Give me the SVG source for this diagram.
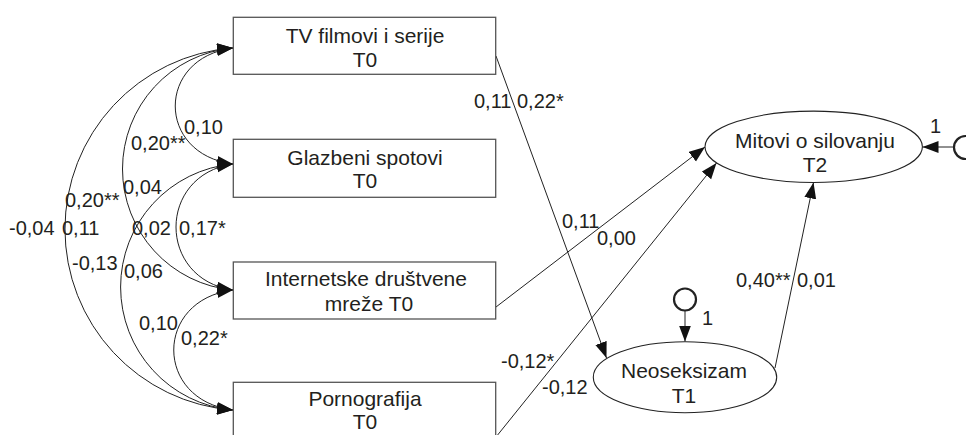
<svg xmlns="http://www.w3.org/2000/svg" width="966" height="435" viewBox="0 0 966 435">
<style>
.box{fill:#fff;stroke:#555;stroke-width:1.3}
.ell{fill:#fff;stroke:#222;stroke-width:1.1}
.err{fill:#fff;stroke:#222;stroke-width:2.2}
.c{fill:none;stroke:#222;stroke-width:1}
.nt{font-family:"Liberation Sans",Arial,sans-serif;font-size:21px;fill:#231f20;text-anchor:middle}
.lb{font-family:"Liberation Sans",Arial,sans-serif;font-size:20px;fill:#231f20}
</style>
<defs>
<marker id="ah" markerUnits="userSpaceOnUse" markerWidth="17" markerHeight="13" refX="16" refY="6" orient="auto-start-reverse" viewBox="0 0 17 13">
<path d="M0,0 L16,6 L0,12 z" fill="#111"/>
</marker>
</defs>
<rect width="966" height="435" fill="#fff"/>
<g id="connectors">
<path class="c" d="M233,48 C156,58 156,154 233,164" marker-start="url(#ah)" marker-end="url(#ah)"/>
<path class="c" d="M233,48 A121.5,121.5 0 0 0 233,290" marker-start="url(#ah)" marker-end="url(#ah)"/>
<path class="c" d="M233,48 A181.5,181.5 0 0 0 233,410" marker-start="url(#ah)" marker-end="url(#ah)"/>
<path class="c" d="M233,164 C157,175 157,279 233,290" marker-start="url(#ah)" marker-end="url(#ah)"/>
<path class="c" d="M233,164 A123.5,123.5 0 0 0 233,410" marker-start="url(#ah)" marker-end="url(#ah)"/>
<path class="c" d="M233,290 C154,300 154,400 233,410" marker-start="url(#ah)" marker-end="url(#ah)"/>
<path class="c" d="M496,56 L606.5,358" marker-end="url(#ah)"/>
<path class="c" d="M496,307 L705,147" marker-end="url(#ah)"/>
<path class="c" d="M496,437 L716.5,163" marker-end="url(#ah)"/>
<path class="c" d="M775,368 L813.5,182.5" marker-end="url(#ah)"/>
<path class="c" d="M953.5,147 L922.5,147" marker-end="url(#ah)"/>
<path class="c" d="M685,310.5 L685,341.5" marker-end="url(#ah)"/>
</g>
<g id="tv"><rect class="box" x="233.3" y="17.3" width="262.4" height="57"/><text class="nt" x="365" y="43.3">TV filmovi i serije</text><text class="nt" x="365" y="66.7">T0</text></g>
<g id="glazbeni"><rect class="box" x="233.3" y="139.3" width="262.4" height="58"/><text class="nt" x="365" y="165">Glazbeni spotovi</text><text class="nt" x="365" y="188.3">T0</text></g>
<g id="internet"><rect class="box" x="233.3" y="262" width="262.4" height="57"/><text class="nt" x="366" y="285.7">Internetske društvene</text><text class="nt" x="369" y="310.7">mreže T0</text></g>
<g id="porno"><rect class="box" x="233.3" y="382.3" width="262.4" height="57"/><text class="nt" x="365" y="405.7">Pornografija</text><text class="nt" x="365" y="429.3">T0</text></g>
<g id="mitovi"><ellipse class="ell" cx="813.7" cy="146.8" rx="108.7" ry="35.7"/><text class="nt" x="815" y="148.3">Mitovi o silovanju</text><text class="nt" x="815" y="171.7">T2</text></g>
<g id="neoseksizam"><ellipse class="ell" cx="685" cy="377.2" rx="91.7" ry="35.5"/><text class="nt" x="684" y="378.3">Neoseksizam</text><text class="nt" x="684" y="402.7">T1</text></g>
<g id="e1"><circle class="err" cx="685" cy="299.5" r="11"/><text class="lb" x="702" y="325">1</text></g>
<g id="e2"><circle class="err" cx="965.5" cy="147.5" r="11.5"/><text class="lb" x="930" y="133">1</text></g>
<g id="labels">
<text class="lb" x="184" y="133.5">0,10</text>
<text class="lb" x="131" y="150">0,20**</text>
<text class="lb" x="123" y="194">0,04</text>
<text class="lb" x="65" y="206.7">0,20**</text>
<text class="lb" x="9" y="235">-0,04</text>
<text class="lb" x="62" y="235">0,11</text>
<text class="lb" x="132" y="235">0,02</text>
<text class="lb" x="179" y="235">0,17*</text>
<text class="lb" x="72" y="270">-0,13</text>
<text class="lb" x="124" y="278.3">0,06</text>
<text class="lb" x="139" y="330">0,10</text>
<text class="lb" x="181" y="345">0,22*</text>
<text class="lb" x="474" y="108.3">0,11</text>
<text class="lb" x="517" y="108.3">0,22*</text>
<text class="lb" x="562" y="228.3">0,11</text>
<text class="lb" x="597" y="245">0,00</text>
<text class="lb" x="501" y="367.7">-0,12*</text>
<text class="lb" x="542" y="394">-0,12</text>
<text class="lb" x="736" y="286.7">0,40**</text>
<text class="lb" x="797" y="286.7">0,01</text>
</g>
</svg>
